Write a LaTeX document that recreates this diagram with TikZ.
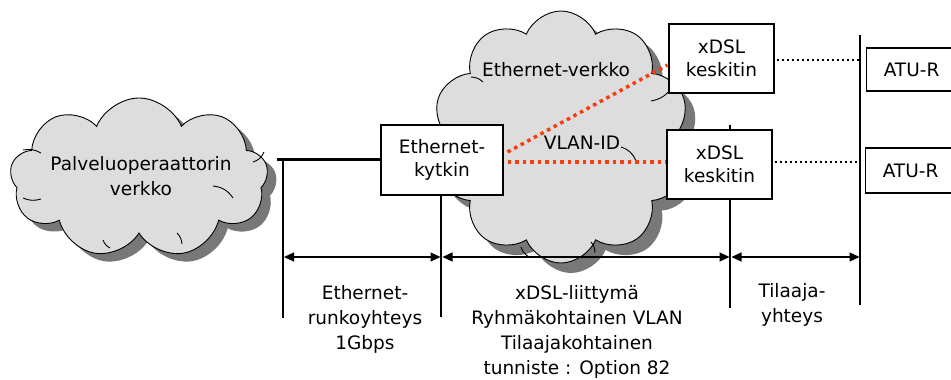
\documentclass[tikz,border=0pt]{standalone}
\usepackage{fontspec}
\setmainfont{DejaVu Sans}
\usetikzlibrary{shapes.symbols,arrows.meta,calc}
\definecolor{cloudfill}{RGB}{221,221,221}
\definecolor{cloudshadow}{RGB}{120,120,120}
\definecolor{vlanred}{RGB}{250,60,10}
\tikzset{
  txt/.style={font=\fontsize{18.5}{25}\selectfont, align=center, inner sep=0pt},
  boxtxt/.style={font=\fontsize{18.5}{23}\selectfont, align=center, inner sep=0pt},
  devbox/.style={boxtxt, draw, fill=white, line width=1.1pt},
  cloudbase/.style={cloud, cloud puffs=9, cloud puff arc=135, cloud ignores aspect, inner sep=0pt},
  cloudlight/.style={cloudbase, draw, fill=cloudfill, line width=0.9pt},
  cloudshade/.style={cloudbase, fill=cloudshadow},
  innerarc/.style={line width=0.9pt},
  thinline/.style={line width=1.1pt},
  thickline/.style={line width=3pt},
  dimarrow/.style={line width=1.2pt, {Triangle[length=10pt,width=9pt]}-{Triangle[length=10pt,width=9pt]}},
  reddots/.style={draw=vlanred, line width=3.5pt, dash pattern=on 3.5pt off 4pt},
  blackdots/.style={line width=2.6pt, dash pattern=on 2.6pt off 2.4pt},
}
\begin{document}
\begin{tikzpicture}[x=1pt,y=-1pt]
\useasboundingbox (0,0) rectangle (951,380);
% clouds
\node[cloudshade, minimum width=258, minimum height=160] (lcs) at (148,186) {};
\node[cloudlight, minimum width=258, minimum height=160] (lc) at (139,178) {};
\node[cloudshade, cloud puffs=10, minimum width=258, minimum height=252] (mcs) at (571,147) {};
\node[cloudlight, cloud puffs=10, minimum width=258, minimum height=252] (mc) at (561,137) {};
% interior arcs of the clouds
\draw[innerarc] ($(lc.center)+(-116,-28)$) to[bend left=20] ($(lc.center)+(-98,-25)$);
\draw[innerarc] ($(lc.center)+(-116,20)$) to[bend right=20] ($(lc.center)+(-98,21)$);
\draw[innerarc] ($(lc.center)+(114,-16)$) to[bend right=25] ($(lc.center)+(125,-26)$);
\draw[innerarc] ($(lc.center)+(74,8)$) to[bend left=25] ($(lc.center)+(94,20)$);
\draw[innerarc] ($(lc.center)+(-36,62)$) to[bend right=20] ($(lc.center)+(-29,70)$);
\draw[innerarc] ($(lc.center)+(38,55)$) to[bend left=20] ($(lc.center)+(43,66)$);
\draw[innerarc] ($(mc.center)+(-90,-60)$) to[bend left=20] ($(mc.center)+(-78,-55)$);
\draw[innerarc] ($(mc.center)+(90,-36)$) to[bend right=20] ($(mc.center)+(110,-48)$);
\draw[innerarc] ($(mc.center)+(60,10)$) to[bend left=25] ($(mc.center)+(75,24)$);
\draw[innerarc] ($(mc.center)+(-40,110)$) to[bend right=20] ($(mc.center)+(-32,120)$);
\draw[innerarc] ($(mc.center)+(30,105)$) to[bend left=20] ($(mc.center)+(34,116)$);
\node[txt] (lctext) at (141,176) {Palveluoperaattorin\\verkko};
\node[txt] (mctext) at (556,70) {Ethernet-verkko};
\node[txt] (vlan) at (582,143) {VLAN-ID};
% dimension coordinates
\coordinate (cport) at (277,159);
\coordinate (v1bot) at (283,318);
\coordinate (v2bot) at (441,317);
\coordinate (v3top) at (730,125);
\coordinate (v3bot) at (730,308);
\coordinate (v4top) at (860,35);
\coordinate (v4bot) at (860,305);
% boxes
\node[devbox, minimum width=122, minimum height=70] (sw) at (442,160) {Ethernet-\\kytkin};
\draw[thinline] (v3top) -- (v3bot);
\node[devbox, minimum width=105, minimum height=69] (x1) at (721.5,58.5) {xDSL\\keskitin};
\node[devbox, minimum width=105, minimum height=69] (x2) at (719.5,164.5) {xDSL\\keskitin};
\node[devbox, minimum width=90, minimum height=43, anchor=west] (a1) at (866,69.5) {ATU-R};
\node[devbox, minimum width=90, minimum height=45, anchor=west] (a2) at (865,170.5) {ATU-R};
% lines
\draw[thickline] (cport) -- (sw.west |- cport);
\draw[thinline] (v1bot |- cport) -- (v1bot);
\draw[thinline] (sw.south -| v2bot) -- (v2bot);
\draw[thinline] (v4top) -- (v4bot);
\draw[reddots] ($(sw.east)+(4,-8)$) -- ($(x1.west)+(-1,6.5)$);
\draw[reddots] ($(sw.east)+(4,2)$) -- ($(x2.west)+(-1,-2.5)$);
\draw[blackdots] ($(x1.east)+(2,1.5)$) -- ($(x1.east -| v4top)+(0,1.5)$);
\draw[blackdots] ($(x2.east)+(2,-2.5)$) -- ($(x2.east -| v4top)+(0,-2.5)$);
% dimension arrows
\draw[dimarrow] ($(v1bot |- 0,257)+(1,0)$) -- ($(v2bot |- 0,257)+(-0.5,0)$);
\draw[dimarrow] ($(v2bot |- 0,257)+(1.5,0)$) -- ($(v3bot |- 0,257)+(-0.5,0)$);
\draw[dimarrow] ($(v3bot |- 0,257)+(1.5,0)$) -- ($(v4bot |- 0,257)+(-0.5,0)$);
% labels
\node[txt, anchor=north] (lab1) at (365,285) {Ethernet-\\runkoyhteys\\1Gbps};
\node[txt, anchor=north] (lab2) at (577,285) {xDSL-liittymä\\Ryhmäkohtainen VLAN\\Tilaajakohtainen\\tunniste : Option 82};
\node[txt, anchor=north] (lab3) at (792,283) {Tilaaja-\\yhteys};
\end{tikzpicture}
\end{document}
